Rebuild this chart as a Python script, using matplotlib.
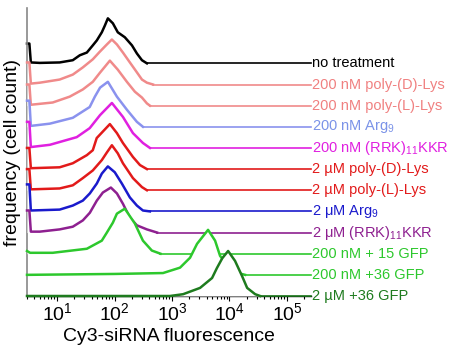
import numpy as np
import matplotlib
matplotlib.use("Agg")
import matplotlib.pyplot as plt
from matplotlib.ticker import LogLocator, NullFormatter
import matplotlib.transforms as mtransforms

plt.rcParams['font.family'] = ['Liberation Sans', 'DejaVu Sans']
plt.rcParams['mathtext.fontset'] = 'custom'
plt.rcParams['mathtext.rm'] = 'Liberation Sans'
plt.rcParams['mathtext.it'] = 'Liberation Sans:italic'
plt.rcParams['mathtext.bf'] = 'Liberation Sans:bold'

# ---- data (top to bottom) ----
labels = [
    "no treatment",
    "200 nM poly-(D)-Lys",
    "200 nM poly-(L)-Lys",
    r"200 nM Arg$_\mathregular{9}$",
    r"200 nM (RRK)$_\mathregular{11}$KKR",
    "2 \u00b5M poly-(D)-Lys",
    "2 \u00b5M poly-(L)-Lys",
    r"2 $\mathregular{\mu}$M Arg$_\mathregular{9}$",
    r"2 $\mathregular{\mu}$M (RRK)$_\mathregular{11}$KKR",
    "200 nM + 15 GFP",
    "200 nM +36 GFP",
    "2 \u00b5M +36 GFP",
]
colors = ['#000000', '#F08A8A', '#F08A8A', '#8A92EE', '#E020E0', '#E21A1A',
          '#E21A1A', '#1A1ACC', '#8E2090', '#2DC82D', '#2DC82D', '#1E7B1E']
text_colors = ['#000000', '#F08080', '#F08080', '#7B93E8', '#E020E0', '#E21A1A',
               '#E21A1A', '#1A1ACC', '#8E2090', '#2DC82D', '#2DC82D', '#1E7B1E']

# fluorescence (x) and cell counts (y, normalized to peak ~100)
x_none = [3.0, 3.3, 3.5, 5, 11.1, 18.8, 24.9, 33, 41.9, 49.2, 60.1, 67.9, 76.6, 93.6, 114, 151, 201, 245, 300, 366]
y_none = [44, 44, 2, 1, 2, 7, 18, 24, 40, 51, 69, 84, 100, 89, 69, 58, 40, 22, 7, 0]
x_pdl200 = [3.0, 3.3, 3.5, 5, 11.1, 18.8, 28.1, 41.9, 55.6, 73.6, 89.9, 110, 140, 185, 245, 300, 366, 467]
y_pdl200 = [49, 49, 2, 4, 11, 22, 38, 56, 73, 89, 100, 89, 71, 49, 27, 11, 4, 0]
x_pll200 = [3.0, 3.3, 3.5, 8.4, 16.6, 28.1, 41.9, 55.6, 83, 114, 164, 226, 300, 366, 413]
y_pll200 = [47, 47, 2, 7, 20, 36, 53, 73, 100, 80, 53, 31, 18, 5, 0]
x_arg200 = [3.0, 3.3, 3.5, 7.5, 18.8, 37, 45.5, 56, 76.6, 110, 164, 245, 312]
y_arg200 = [58, 58, 2, 7, 20, 44, 67, 87, 100, 67, 38, 11, 0]
x_rrk200 = [3.0, 3.3, 3.5, 7.5, 22, 37, 56, 90, 140, 209, 312, 413]
y_rrk200 = [58, 58, 2, 7, 24, 44, 73, 100, 69, 33, 11, 0]
x_pdl2 = [3.0, 3.3, 3.5, 11.1, 18.8, 33, 41.9, 49, 83, 110, 140, 209, 277, 366]
y_pdl2 = [47, 47, 2, 4, 13, 31, 42, 69, 100, 80, 58, 27, 9, 0]
x_pll2 = [3.0, 3.3, 3.5, 11.1, 18.8, 28.1, 41.9, 60.1, 73.6, 90, 114, 140, 209, 300, 366]
y_pll2 = [47, 47, 2, 4, 11, 27, 44, 67, 84, 100, 82, 60, 27, 7, 0]
x_arg2 = [3.0, 3.3, 3.5, 11.1, 18.8, 28.1, 37.2, 49.2, 60.1, 76.6, 101, 134, 185, 245, 312, 413]
y_arg2 = [60, 60, 2, 4, 13, 24, 40, 62, 84, 100, 87, 62, 31, 13, 2, 0]
x_rrk2 = [3.0, 3.3, 3.5, 5, 11.1, 18.8, 28.1, 37.2, 49.2, 62.7, 86.4, 110, 140, 185, 245, 366, 550]
y_rrk2 = [49, 49, 2, 2, 7, 13, 27, 44, 71, 89, 100, 87, 64, 33, 16, 7, 0]
x_gfp15 = [3.0, 3.4, 5, 8.4, 33, 60.1, 73.6, 93.6, 110, 151, 226, 312, 446, 630]
y_gfp15 = [6, 2, 2, 2, 11, 29, 47, 69, 89, 100, 67, 29, 7, 0]
x_gfp36 = [3.0, 100, 697, 1380, 2060, 2730, 4240, 5620, 6870, 9470, 14100, 18700]
y_gfp36 = [0, 2, 4, 16, 38, 69, 100, 76, 42, 20, 4, 0]
x_gfp36_2 = [3.0, 923, 1560, 3080, 4980, 6040, 7500, 9470, 12500, 16600, 20300, 28000, 34200]
y_gfp36_2 = [0, 0, 4, 18, 40, 62, 84, 100, 78, 44, 18, 4, 0]

xs = [x_none, x_pdl200, x_pll200, x_arg200, x_rrk200, x_pdl2, x_pll2, x_arg2,
      x_rrk2, x_gfp15, x_gfp36, x_gfp36_2]
ys = [y_none, y_pdl200, y_pll200, y_arg200, y_rrk200, y_pdl2, y_pll2, y_arg2,
      y_rrk2, y_gfp15, y_gfp36, y_gfp36_2]

STEP = 47
XMIN, XMAX = 3.0, 262144
YMAX = 640

fig = plt.figure(figsize=(4.5, 3.5), dpi=100)
ax = fig.add_axes([27/450, 54/350, 284/450, 288/350])
ax.set_xscale('log')
ax.set_xlim(XMIN, XMAX)
ax.set_ylim(0, YMAX)

n = len(xs)
trans = mtransforms.blended_transform_factory(ax.transAxes, ax.transData)
for i in range(n):
    off = (n - 1 - i) * STEP
    x = np.array(xs[i], dtype=float)
    y = np.array(ys[i], dtype=float) + off
    ax.fill_between(x, off, y, color='white', lw=0, zorder=2 * i + 1)
    ax.plot(x, y, color=colors[i], lw=1.8, zorder=2 * i + 2, clip_on=False,
            solid_joinstyle='round')
    ax.plot([x[-1], XMAX], [off, off], color=colors[i], lw=1.2,
            zorder=2 * i + 2, clip_on=False)
    ax.text(1.003, off, labels[i], transform=trans, ha='left', va='center',
            fontsize=10.5, color=text_colors[i], clip_on=False)

for s in ['top', 'right']:
    ax.spines[s].set_visible(False)
ax.spines['left'].set_color('#888888')
ax.spines['left'].set_linewidth(1.2)
ax.spines['bottom'].set_linewidth(1.0)
ax.spines['bottom'].set_zorder(0)

ax.xaxis.set_major_locator(LogLocator(base=10, numticks=10))
ax.xaxis.set_minor_locator(LogLocator(base=10, subs=np.arange(2, 10), numticks=20))
ax.xaxis.set_minor_formatter(NullFormatter())
ax.tick_params(axis='x', which='major', direction='out', length=3.5, width=0.8,
               labelsize=14, pad=1)
ax.tick_params(axis='x', which='minor', direction='out', length=2, width=0.8)
ax.tick_params(axis='y', left=False, labelleft=False)

ax.set_xlabel('Cy3-siRNA fluorescence', fontsize=14, labelpad=3)
ax.set_ylabel('frequency (cell count)', fontsize=14, labelpad=4)

fig.savefig('out.png', dpi=100)
